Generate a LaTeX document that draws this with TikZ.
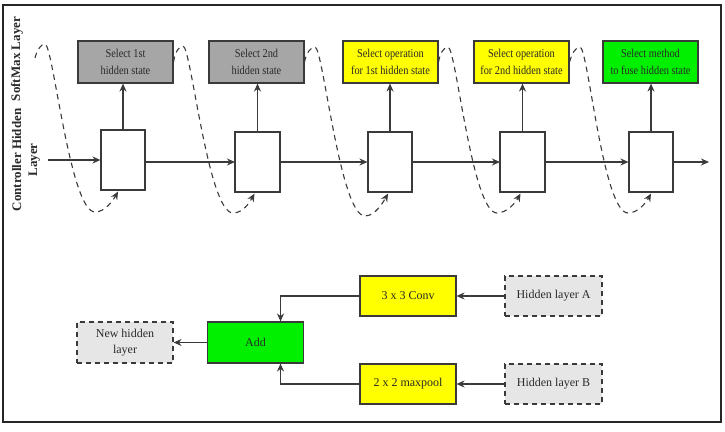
\documentclass[tikz,border=0pt]{standalone}
\usepackage{fontspec}
\setmainfont{Liberation Serif}
\newfontfamily\condserif[FakeStretch=0.86]{Liberation Serif}
\usetikzlibrary{arrows.meta,calc}
\definecolor{gbox}{HTML}{A6A6A6}
\definecolor{ybox}{HTML}{FFFF00}
\definecolor{grbox}{HTML}{00F000}
\definecolor{lbox}{HTML}{E6E6E6}
\definecolor{edge}{HTML}{3A3A3A}
\definecolor{txt}{HTML}{2A2A2A}
\tikzset{
  topbox/.style={draw=edge, line width=1.1pt, minimum width=95pt, minimum height=42pt, inner sep=1pt,
    align=center, text=txt, font=\condserif\fontsize{12}{16.5}\selectfont},
  ctlbox/.style={draw=edge, line width=1.1pt, fill=white, minimum width=44pt, minimum height=60pt},
  botbox/.style={draw=edge, line width=1.1pt, minimum width=96pt, minimum height=40pt, inner sep=1pt,
    align=center, text=txt, font=\fontsize{12}{16.5}\selectfont},
  dbox/.style={botbox, fill=lbox, dash pattern=on 5pt off 4pt},
  arr/.style={draw=edge, line width=1.1pt, -{Stealth[length=8pt,width=7pt]}},
  darr/.style={draw=edge, line width=1.1pt, dash pattern=on 5.5pt off 4.5pt, -{Stealth[length=8pt,width=7pt]}},
  lbl/.style={rotate=90, font=\bfseries\fontsize{13}{16}\selectfont, text=txt, align=center, inner sep=0pt}
}
\begin{document}
\begin{tikzpicture}[x=1pt,y=-1pt]
\useasboundingbox (0,0) rectangle (725,431);
\draw[line width=1.8pt, draw=black!85] (3,5) rectangle (721,422);

% side labels
\node[lbl] (lab1) at (26,160) {Controller Hidden\\Layer};
\node[lbl] (lab2) at (17,59) {SoftMax Layer};

% top (softmax) boxes
\node[topbox, fill=gbox] (t1) at (125.5,62) {Select 1st\\hidden state};
\node[topbox, fill=gbox] (t2) at (256.5,62) {Select 2nd\\hidden state};
\node[topbox, fill=ybox] (t3) at (390.5,62) {Select operation\\for 1st hidden state};
\node[topbox, fill=ybox] (t4) at (521.5,62) {Select operation\\for 2nd hidden state};
\node[topbox, fill=grbox] (t5) at (650.5,62) {Select method\\to fuse hidden state};

% controller boxes
\node[ctlbox] (c1) at (123,160) {};
\node[ctlbox] (c2) at (257.5,162) {};
\node[ctlbox] (c3) at (390,162) {};
\node[ctlbox] (c4) at (522.5,162) {};
\node[ctlbox] (c5) at (651,162) {};

% dashed loops
\coordinate (s1) at (35,58);
\draw[darr] (s1) .. controls (37,50) and (41,44) .. (45,44)
  .. controls (53,44) and (70,212) .. (95,212)
  .. controls (105,212) and ($(c1.south)+(-10,10)$) .. ($(c1.south)+(-5,1)$);
\draw[darr] (t1.east) .. controls (175,52) and (179,46) .. (183,46)
  .. controls (191,46) and (208,213) .. (233,213)
  .. controls (243,213) and ($(c2.south)+(-8,10)$) .. ($(c2.south)+(-3,1)$);
\draw[darr] (t2.east) .. controls (306,53) and (311,47) .. (315,47)
  .. controls (323,47) and (340,216) .. (365,216)
  .. controls (375,216) and ($(c3.south)+(-7,10)$) .. ($(c3.south)+(-2,1)$);
\draw[darr] (t3.east) .. controls (440,53) and (444,47) .. (448,47)
  .. controls (456,47) and (472,213) .. (497,213)
  .. controls (507,213) and ($(c4.south)+(-7,10)$) .. ($(c4.south)+(-2,1)$);
\draw[darr] (t4.east) .. controls (572,53) and (576,47) .. (580,47)
  .. controls (588,47) and (603,213) .. (628,213)
  .. controls (638,213) and ($(c5.south)+(-5,10)$) .. ($(c5.south)+(0,1)$);

% redraw controller boxes on top of curves
\foreach \c in {c1,c2,c3,c4,c5} {\draw[draw=edge, line width=1.1pt] (\c.south west) rectangle (\c.north east);}

% vertical arrows
\foreach \i in {1,...,5} {\draw[arr] (c\i.north) -- (c\i.north |- t\i.south);}

% horizontal chain
\coordinate (in) at (48,160);
\coordinate (out) at (709,160);
\draw[arr] (in) -- (in -| c1.west);
\draw[arr] (c1.east |- 0,162) -- (c2.west);
\draw[arr] (c2.east) -- (c3.west);
\draw[arr] (c3.east) -- (c4.west);
\draw[arr] (c4.east) -- (c5.west);
\draw[arr] (c5.east) -- (c5.east -| out);

% bottom diagram
\node[botbox, fill=grbox, minimum height=41pt] (add) at (255.5,342.5) {Add};
\node[dbox, minimum height=41pt] (new) at (125,342.5) {New hidden\\layer};
\node[botbox, fill=ybox] (conv) at (408,296) {3 x 3 Conv};
\node[botbox, fill=ybox] (pool) at (408,384) {2 x 2 maxpool};
\node[dbox, minimum width=97pt] (ha) at (553.5,296) {Hidden layer A};
\node[dbox, minimum width=97pt] (hb) at (553.5,384) {Hidden layer B};

\draw[arr] (ha.west) -- (conv.east);
\draw[arr] (hb.west) -- (pool.east);
\draw[arr] (conv.west) -| ($(add.north)+(25,0)$);
\draw[arr] (pool.west) -| ($(add.south)+(25,0)$);
\draw[arr] (add.west) -- (new.east);
\end{tikzpicture}
\end{document}
